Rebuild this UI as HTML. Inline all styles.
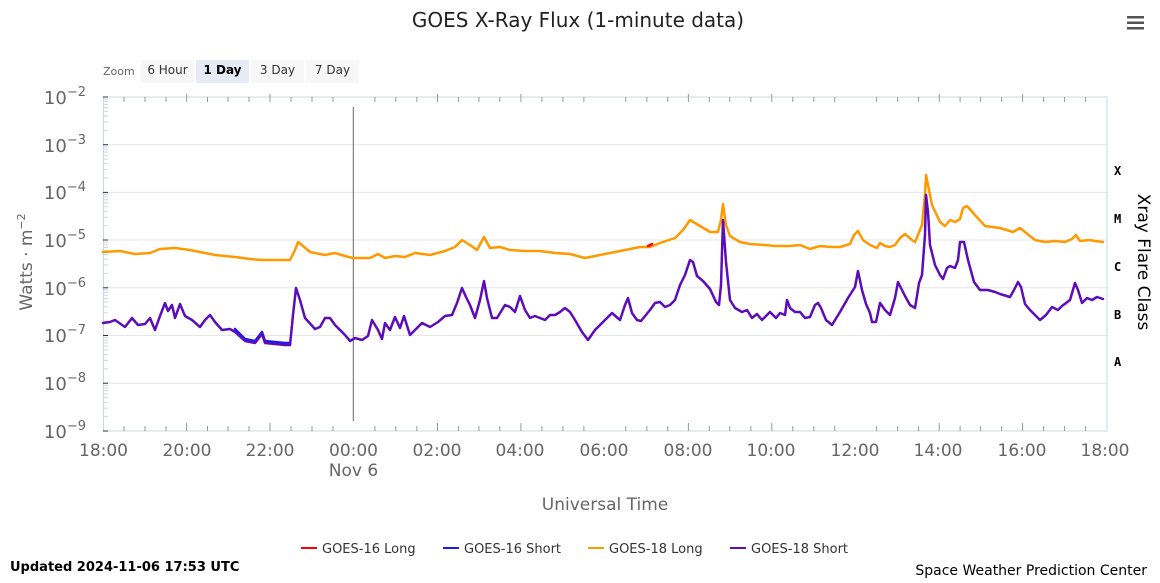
<!DOCTYPE html>
<html><head><meta charset="utf-8"><style>
body{margin:0;background:#fff;width:1160px;height:578px;overflow:hidden;font-family:"Liberation Sans","DejaVu Sans",sans-serif}
</style></head><body>
<svg width="1160" height="578" xmlns="http://www.w3.org/2000/svg" font-family="'DejaVu Sans','Liberation Sans',sans-serif">
<defs>
<g id="dec" stroke="#ccd6eb" stroke-width="1">
<line x1="103" x2="108" y1="-14.4" y2="-14.4"/><line x1="103" x2="108" y1="-22.8" y2="-22.8"/><line x1="103" x2="108" y1="-28.7" y2="-28.7"/><line x1="103" x2="108" y1="-33.3" y2="-33.3"/><line x1="103" x2="108" y1="-37.1" y2="-37.1"/><line x1="103" x2="108" y1="-40.3" y2="-40.3"/><line x1="103" x2="108" y1="-43.1" y2="-43.1"/><line x1="103" x2="108" y1="-45.5" y2="-45.5"/>
</g>
</defs>
<text x="578" y="27" text-anchor="middle" font-size="20" fill="#222">GOES X-Ray Flux (1-minute data)</text>
<g fill="#555"><rect x="1127" y="16" width="17" height="2.5"/><rect x="1127" y="21.5" width="17" height="2.5"/><rect x="1127" y="27" width="17" height="2.5"/></g>
<text x="103" y="75" font-size="11" fill="#666">Zoom</text>
<rect x="141" y="60" width="53" height="23" fill="#f7f7f7"/><text x="167.5" y="74" font-size="12" text-anchor="middle" fill="#333">6 Hour</text>
<rect x="196" y="60" width="53" height="23" fill="#e6ebf5"/><text x="222.5" y="74" font-size="12" text-anchor="middle" fill="#000" font-weight="bold">1 Day</text>
<rect x="251" y="60" width="53" height="23" fill="#f7f7f7"/><text x="277.5" y="74" font-size="12" text-anchor="middle" fill="#333">3 Day</text>
<rect x="306" y="60" width="53" height="23" fill="#f7f7f7"/><text x="332.5" y="74" font-size="12" text-anchor="middle" fill="#333">7 Day</text>
<g stroke="#e6e6e6" stroke-width="1">
<line x1="103" x2="1107" y1="144.7" y2="144.7"/><line x1="103" x2="1107" y1="192.4" y2="192.4"/><line x1="103" x2="1107" y1="240" y2="240"/><line x1="103" x2="1107" y1="287.8" y2="287.8"/><line x1="103" x2="1107" y1="335.5" y2="335.5"/><line x1="103" x2="1107" y1="383.2" y2="383.2"/>
</g>
<rect x="103.5" y="97" width="1003.5" height="334" fill="none" stroke="#ccd6eb"/>
<use href="#dec" y="144.7"/><use href="#dec" y="192.4"/><use href="#dec" y="240"/><use href="#dec" y="287.8"/><use href="#dec" y="335.5"/><use href="#dec" y="383.2"/><use href="#dec" y="431"/>
<g stroke="#333" stroke-width="1"><line x1="103" x2="108" y1="97" y2="97"/><line x1="103" x2="108" y1="144.7" y2="144.7"/><line x1="103" x2="108" y1="192.4" y2="192.4"/><line x1="103" x2="108" y1="240" y2="240"/><line x1="103" x2="108" y1="287.8" y2="287.8"/><line x1="103" x2="108" y1="335.5" y2="335.5"/><line x1="103" x2="108" y1="383.2" y2="383.2"/><line x1="103" x2="108" y1="431" y2="431"/></g>
<g id="xt" stroke="#999" stroke-width="1">
<line x1="124" x2="124" y1="426" y2="431"/><line x1="145" x2="145" y1="426" y2="431"/><line x1="166" x2="166" y1="426" y2="431"/><line x1="186.6" x2="186.6" y1="423" y2="431"/><line x1="207.5" x2="207.5" y1="426" y2="431"/><line x1="228" x2="228" y1="426" y2="431"/><line x1="249" x2="249" y1="426" y2="431"/><line x1="270" x2="270" y1="423" y2="431"/><line x1="291" x2="291" y1="426" y2="431"/><line x1="312" x2="312" y1="426" y2="431"/><line x1="333" x2="333" y1="426" y2="431"/>
</g>
<use href="#xt" x="250.9"/><use href="#xt" x="501.8"/><use href="#xt" x="752.6"/>
<use href="#xt" y="-329"/><use href="#xt" x="250.9" y="-329"/><use href="#xt" x="501.8" y="-329"/><use href="#xt" x="752.6" y="-329"/>
<line x1="353.3" x2="353.3" y1="107" y2="421" stroke="#666" stroke-width="1"/>
<g font-size="18" fill="#666" text-anchor="end">
<text x="86" y="104">10<tspan dy="-8" font-size="13">−2</tspan></text>
<text x="86" y="152">10<tspan dy="-8" font-size="13">−3</tspan></text>
<text x="86" y="199">10<tspan dy="-8" font-size="13">−4</tspan></text>
<text x="86" y="247">10<tspan dy="-8" font-size="13">−5</tspan></text>
<text x="86" y="295">10<tspan dy="-8" font-size="13">−6</tspan></text>
<text x="86" y="342">10<tspan dy="-8" font-size="13">−7</tspan></text>
<text x="86" y="390">10<tspan dy="-8" font-size="13">−8</tspan></text>
<text x="86" y="438">10<tspan dy="-8" font-size="13">−9</tspan></text>
</g>
<text transform="translate(32,262) rotate(-90)" font-size="17" fill="#666" text-anchor="middle">Watts · m<tspan dy="-7" font-size="11">−2</tspan></text>
<g font-size="17" fill="#666" text-anchor="middle">
<text x="103.5" y="456">18:00</text><text x="187" y="456">20:00</text><text x="270" y="456">22:00</text><text x="353.5" y="456">00:00</text><text x="353.5" y="476">Nov 6</text><text x="437" y="456">02:00</text><text x="520" y="456">04:00</text><text x="604" y="456">06:00</text><text x="688" y="456">08:00</text><text x="771" y="456">10:00</text><text x="855" y="456">12:00</text><text x="938" y="456">14:00</text><text x="1022" y="456">16:00</text><text x="1105" y="456">18:00</text>
<text x="605" y="510">Universal Time</text>
</g>
<g font-family="'DejaVu Sans Mono','Liberation Mono',monospace" font-size="12" font-weight="bold" fill="#000">
<text x="1114" y="175">X</text><text x="1114" y="223">M</text><text x="1114" y="271">C</text><text x="1114" y="319">B</text><text x="1114" y="366">A</text>
</g>
<text transform="translate(1138,262) rotate(90)" font-size="17" fill="#000" text-anchor="middle">Xray Flare Class</text>
<g fill="none" stroke-width="2.5" stroke-linejoin="round" stroke-linecap="round">
<polyline stroke="#1a1aff" points="235,329 245,339 255,341 262,332 265,341 275,342 285,343 290,343"/>
<polyline stroke="#ff9900" points="103,252 120,251 135,254 150,253 160,249 175,248 190,250 205,253 215,255 235,257 250,259 262,260 275,260 290,260 295,250 298,242 303,246 310,252 325,255 335,253 345,256 353,258 370,258 378,254 385,258 395,256 405,257 415,253 430,255 445,251 455,247 462,240 470,245 477,250 484,237 490,248 500,247 510,250 525,251 540,251 555,253 570,254 585,258 600,255 615,252 630,249 640,247 650,247 660,243 675,238 683,230 690,220 700,226 710,232 718,232 721,220 723,204 726,225 730,236 740,242 750,244 765,245 775,246 790,246 800,245 810,249 820,246 830,247 840,247 850,244 854,235 858,231 863,240 870,245 877,248 880,243 885,246 890,247 895,245 900,238 905,234 912,240 915,242 918,235 922,225 925,195 926,175 929,190 932,205 940,222 945,226 950,220 955,222 960,219 963,208 967,206 975,215 985,226 1000,228 1013,232 1020,228 1025,232 1035,240 1045,242 1055,241 1065,242 1072,239 1076,235 1080,241 1090,240 1095,241 1103,242"/>
<polyline stroke="#ff0000" points="648,246 652,244"/>
<polyline stroke="#5c0db8" points="103,323 110,322 115,320 125,327 132,318 138,325 145,324 150,318 155,330 160,316 165,303 168,311 172,305 175,318 180,304 185,316 192,320 200,327 205,320 210,315 215,322 222,330 230,329 235,332 245,341 255,343 262,334 265,343 275,344 285,345 290,345 293,315 296,288 300,300 305,318 315,329 320,327 325,318 330,318 335,325 345,335 350,341 355,338 362,340 368,336 372,320 378,330 382,339 385,323 390,330 395,317 400,328 404,316 410,335 415,330 422,323 430,327 438,322 445,316 452,315 457,303 462,288 466,297 470,305 475,318 480,300 484,281 487,298 492,318 497,318 505,305 510,307 515,312 520,296 525,310 530,318 535,316 540,318 545,320 550,315 555,315 560,312 565,308 570,312 575,320 582,332 588,340 595,330 600,325 605,320 612,313 620,320 625,305 628,298 632,313 637,320 641,321 650,310 655,303 660,302 665,307 670,305 675,300 680,285 685,275 690,260 693,262 697,276 703,281 710,289 716,302 719,305 721,285 723,220 726,262 730,300 735,308 742,312 747,310 752,318 757,314 762,320 765,317 770,312 776,318 780,313 785,315 787,300 790,308 795,312 800,312 805,318 810,317 815,305 818,303 821,308 826,320 832,325 840,312 848,298 855,287 858,271 862,290 866,304 870,313 872,322 876,322 880,303 885,310 890,315 895,298 898,282 905,296 910,305 915,308 917,296 919,283 922,275 925,235 926,195 928,212 930,245 935,265 940,275 943,279 947,268 950,266 955,268 958,260 960,242 964,242 968,260 974,282 980,290 988,290 995,292 1000,294 1010,297 1014,290 1018,282 1021,287 1025,304 1030,310 1040,320 1046,315 1052,307 1058,310 1062,306 1070,300 1075,283 1078,290 1082,303 1087,298 1092,300 1097,297 1103,299"/>
</g>
<g font-size="13" fill="#333">
<line x1="301" x2="317" y1="548" y2="548" stroke="#ff0000" stroke-width="2"/><text x="322" y="553">GOES-16 Long</text>
<line x1="443" x2="459" y1="548" y2="548" stroke="#1a1aff" stroke-width="2"/><text x="464" y="553">GOES-16 Short</text>
<line x1="588" x2="604" y1="548" y2="548" stroke="#ff9900" stroke-width="2"/><text x="609" y="553">GOES-18 Long</text>
<line x1="730" x2="746" y1="548" y2="548" stroke="#5c0db8" stroke-width="2"/><text x="751" y="553">GOES-18 Short</text>
</g>
<text x="10" y="571" font-size="13" font-weight="bold" fill="#000">Updated 2024-11-06 17:53 UTC</text>
<text x="1147" y="575" font-size="14" fill="#000" text-anchor="end">Space Weather Prediction Center</text>
</svg>
</body></html>
